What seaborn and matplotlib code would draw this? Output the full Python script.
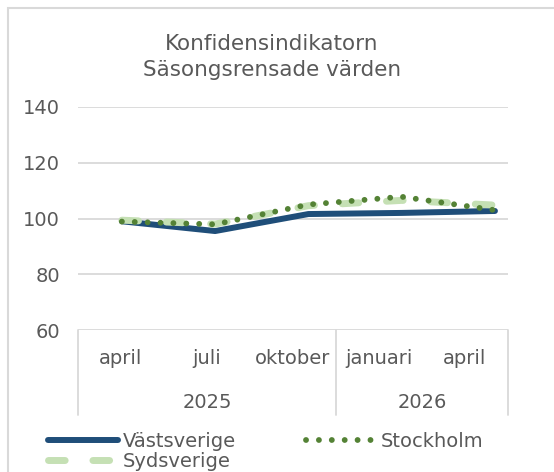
import pandas as pd
import matplotlib.pyplot as plt
import matplotlib.patches as patches
import seaborn as sns

# category labels (two-level axis: month / year)
months = ['april', 'juli', 'oktober', 'januari', 'april']
years = ['2025', '2026']
year_spans = [3, 2]

# confidence indicator, seasonally adjusted
vastsverige = [99.0, 95.5, 101.6, 102.0, 102.7]
stockholm = [98.9, 97.9, 105.0, 107.8, 103.0]
sydsverige = [99.4, 98.0, 104.6, 106.5, 104.8]

grey = '#595959'
grid = '#d9d9d9'

sns.set_style('white')
plt.rcParams['font.family'] = ['DejaVu Sans']

fig = plt.figure(figsize=(5.54, 4.72), dpi=100)
ax = fig.add_axes([78 / 554, 1 - 330 / 472, 430 / 554, 223 / 472])

pos = list(range(len(months)))
df = pd.DataFrame({'pos': pos, 'Västsverige': vastsverige,
                   'Stockholm': stockholm, 'Sydsverige': sydsverige})

# draw order: Västsverige, Sydsverige, Stockholm on top
sns.lineplot(data=df, x='pos', y='Västsverige', ax=ax, color='#1f4e79',
             linewidth=4.3, label='Västsverige')
sns.lineplot(data=df, x='pos', y='Sydsverige', ax=ax, color='#c5e0b4',
             linewidth=5, label='Sydsverige')
sns.lineplot(data=df, x='pos', y='Stockholm', ax=ax, color='#548235',
             linewidth=4.2, label='Stockholm')

lines = ax.get_lines()
lines[0].set_solid_capstyle('round')
lines[1].set_dashes((2.4, 4.0))
lines[1].set_dash_capstyle('round')
lines[2].set_dashes((0.01, 2.2))
lines[2].set_dash_capstyle('round')
if ax.get_legend():
    ax.get_legend().remove()

ax.set_ylim(60, 140)
ax.set_yticks([60, 80, 100, 120, 140])
ax.set_xlim(-0.47, 4.14)
ax.set_xticks([])
ax.set_xlabel('')
ax.set_ylabel('')
ax.yaxis.grid(True, color=grid, linewidth=1.3)
ax.tick_params(axis='y', length=0, pad=13, labelsize=14, labelcolor=grey)
for s in ax.spines.values():
    s.set_visible(False)

# category table under the plot
n = len(months)
for i, m in enumerate(months):
    ax.text((i + 0.5) / n, -28 / 223, m, transform=ax.transAxes, ha='center',
            va='center', fontsize=14, color=grey)
start = 0
for y, span in zip(years, year_spans):
    ax.text((start + span / 2) / n, -73 / 223, y, transform=ax.transAxes,
            ha='center', va='center', fontsize=14, color=grey)
    start += span
bounds = [0, 3 / n, 1]
for b in bounds:
    ax.plot([b, b], [0, -85 / 223], transform=ax.transAxes, color=grid,
            linewidth=1.3, clip_on=False)

# title
fig.text(272 / 554, 1 - 57 / 472, 'Konfidensindikatorn\nSäsongsrensade värden',
         ha='center', va='center', fontsize=15.5, color=grey, linespacing=1.4)

# legend
h = {l.get_label(): l for l in lines}
order = ['Västsverige', 'Sydsverige', 'Stockholm']
leg = fig.legend([h[k] for k in order], order, ncol=2, loc='upper left',
                 bbox_to_anchor=(40 / 554, 1 - 424 / 472), frameon=False,
                 fontsize=14, handlelength=3.6, handletextpad=0.25,
                 columnspacing=3.6, labelspacing=0.05, borderaxespad=0)
for t in leg.get_texts():
    t.set_color(grey)

# chart border
fig.add_artist(patches.Rectangle((8 / 554, -0.1), 1.2, 1.1 - 8 / 472,
                                 transform=fig.transFigure, fill=False,
                                 edgecolor=grid, linewidth=1.5))

fig.savefig('out.png', dpi=100)
